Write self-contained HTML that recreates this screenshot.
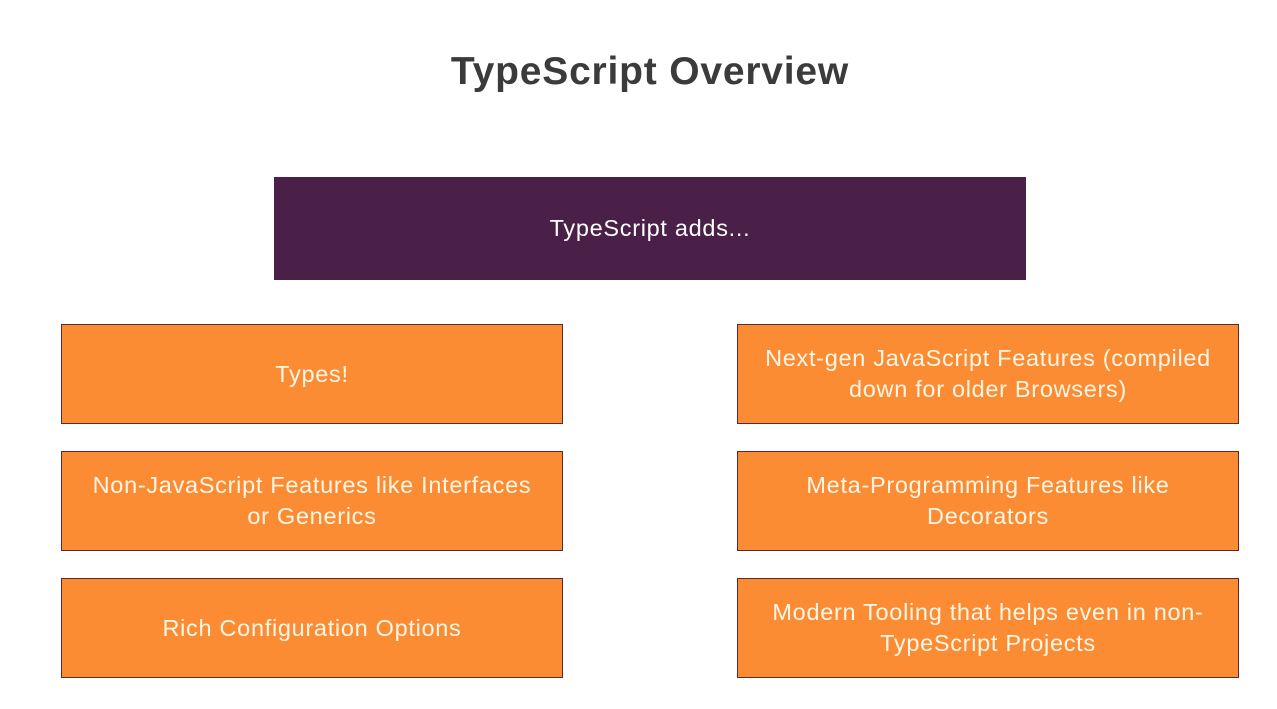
<!DOCTYPE html>
<html><head><meta charset="utf-8"><style>
body{margin:0;width:1277px;height:709px;background:#fff;position:relative;overflow:hidden;font-family:"Liberation Sans",sans-serif}
.t{position:absolute;left:0;width:1300px;top:50px;text-align:center;font-weight:bold;font-size:39px;letter-spacing:0.8px;color:#3b3b3b}
.b{position:absolute;box-sizing:border-box;display:flex;align-items:center;justify-content:center;text-align:center;color:#fff6e6;font-size:23.5px;letter-spacing:0.7px;line-height:31px;padding:0 4px;white-space:nowrap}
.o{background:#fc8c33;border:1.5px solid #5a2a30;width:502px;height:100px}
.L{left:61px}.R{left:737px}
</style></head><body>
<div class="t">TypeScript Overview</div>
<div class="b" style="left:274px;top:177px;width:752px;height:103px;background:#4a1f48;color:#fff">TypeScript adds...</div>
<div class="b o L" style="top:324px">Types!</div>
<div class="b o L" style="top:451px">Non-JavaScript Features like Interfaces<br>or Generics</div>
<div class="b o L" style="top:578px">Rich Configuration Options</div>
<div class="b o R" style="top:324px">Next-gen JavaScript Features (compiled<br>down for older Browsers)</div>
<div class="b o R" style="top:451px">Meta-Programming Features like<br>Decorators</div>
<div class="b o R" style="top:578px">Modern Tooling that helps even in non-<br>TypeScript Projects</div>
</body></html>
